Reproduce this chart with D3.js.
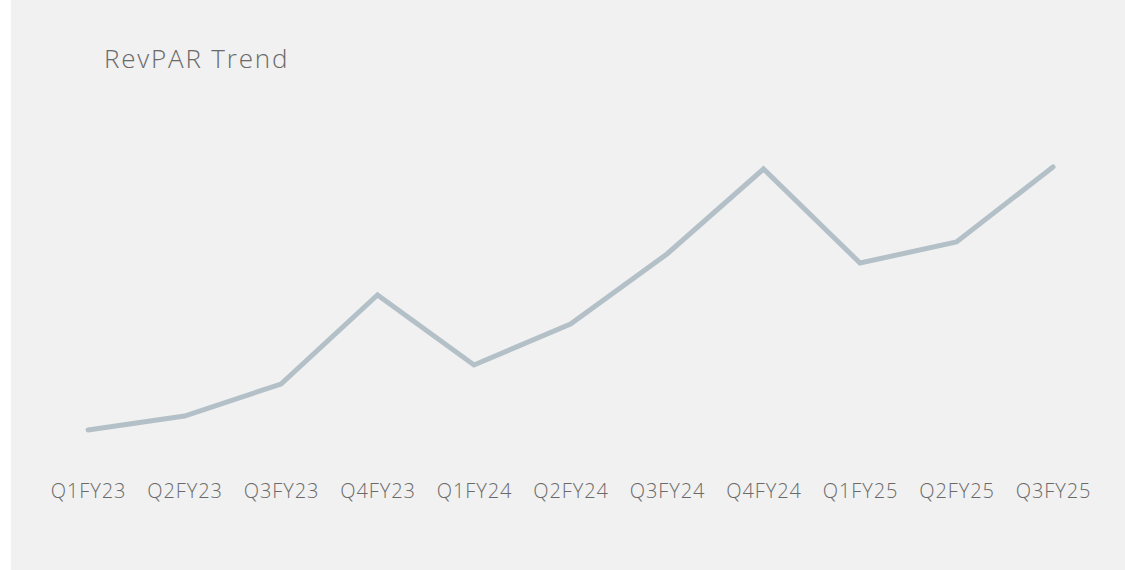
<!DOCTYPE html>
<html>
<head>
<meta charset="utf-8">
<script src="https://cdn.jsdelivr.net/npm/d3@7"></script>
<style>
  html, body { margin: 0; padding: 0; background: #ffffff; }
  svg { display: block; }
  text { font-family: "Open Sans", sans-serif; font-weight: 300; }
</style>
</head>
<body>
<svg id="chart" width="1125" height="570"></svg>
<script>
const categories = ["Q1FY23","Q2FY23","Q3FY23","Q4FY23","Q1FY24","Q2FY24","Q3FY24","Q4FY24","Q1FY25","Q2FY25","Q3FY25"];
const revpar = [3000, 3140, 3460, 4350, 3650, 4060, 4760, 5610, 4670, 4880, 5630];
const title = "RevPAR Trend";

const svg = d3.select("#chart");
const W = 1125, H = 570;

svg.append("rect").attr("x", 11).attr("y", 0).attr("width", W - 11).attr("height", H).attr("fill", "#f1f1f1");

const x = d3.scalePoint().domain(categories).range([88, 1053]);
const y = d3.scaleLinear().domain([3000, 5630]).range([430, 167]);

svg.append("text").attr("x", 104).attr("y", 68).attr("fill", "#6a6a6a")
  .attr("font-size", 26).attr("letter-spacing", 1.8).text(title);

const xAxis = d3.axisBottom(x).tickSize(0).tickPadding(0);
const gx = svg.append("g").attr("transform", "translate(0,484)").call(xAxis);
gx.select(".domain").remove();
gx.selectAll("text").attr("font-size", 20).attr("fill", "#6a6a6a")
  .attr("dy", "0.71em").attr("letter-spacing", 0.9)
  .style("font-family", "'Open Sans', sans-serif").style("font-weight", 300);

const line = d3.line().x((d, i) => x(categories[i])).y(d => y(d));
svg.append("path").datum(revpar).attr("d", line)
  .attr("fill", "none").attr("stroke", "#b4c0c7").attr("stroke-width", 5)
  .attr("stroke-linejoin", "miter").attr("stroke-linecap", "round");
</script>
</body>
</html>
